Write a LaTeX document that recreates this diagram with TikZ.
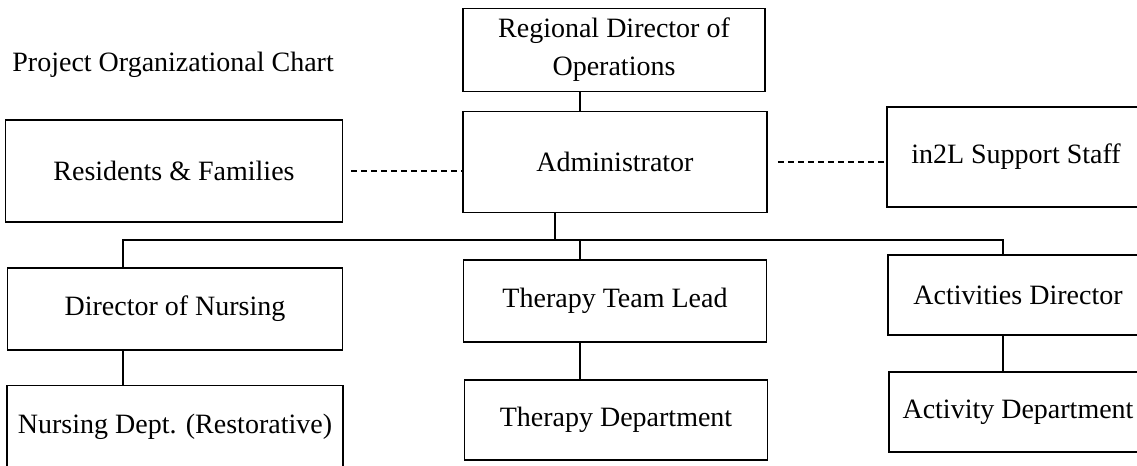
\documentclass[tikz,border=0pt]{standalone}
\usepackage{fontspec}
\setmainfont{Liberation Serif}
\usepackage{tikz}

\begin{document}
\begin{tikzpicture}[
                    x=0.5pt, y=-0.5pt,
                    box/.style = {
                        draw=black, rectangle, line width=0.8pt, inner sep=1pt,
                        font=\fontsize{14}{19}\selectfont, align=center
                    },
                    link/.style = {line width=0.8pt},
                    dotlink/.style = {line width=1pt, dash pattern=on 3pt off 2pt}
                ]
                    \useasboundingbox (0,0) rectangle (1137,466);

                    % Title
                    \node[anchor=base west, inner sep=0pt, font=\fontsize{14}{19}\selectfont] (title) at (12,71) {Project Organizational Chart};

                    % Nodes
                    \node[box, minimum width=151pt, minimum height=41.5pt] (reg) at (614,50) {Regional Director of\\Operations};
                    \node[box, minimum width=152pt, minimum height=50.5pt] (adm) at (615,162) {Administrator};
                    \node[box, minimum width=168.5pt, minimum height=51pt] (res) at (174,171) {Residents \& Families};
                    \node[box, minimum width=129pt, minimum height=50pt] (sup) at (1016,157) {in2L Support Staff};
                    \node[box, minimum width=167.5pt, minimum height=41pt] (don) at (175,309) {Director of Nursing};
                    \node[box, minimum width=151.5pt, minimum height=41pt] (ttl) at (615,301) {Therapy Team Lead};
                    \node[box, minimum width=130pt, minimum height=40pt] (act) at (1018,295) {Activities Director};
                    \node[box, minimum width=168pt, minimum height=41.5pt] (nur) at (175,427) {Nursing Dept. (Restorative)};
                    \node[box, minimum width=151.5pt, minimum height=40pt] (tdp) at (616,420) {Therapy Department};
                    \node[box, minimum width=129pt, minimum height=40pt] (adp) at (1018,412) {Activity Department};

                    % Bus line
                    \coordinate (bus) at (580,240);

                    % Edges
                    \draw[link] ([xshift=-17pt]reg.south) -- ([xshift=-17pt]reg.south |- adm.north);
                    \draw[link] ([xshift=-30pt]adm.south) -- ([xshift=-30pt]adm.south |- bus);
                    \draw[link] ([xshift=-26pt]don.north) |- (bus) -| ([xshift=-7.5pt]act.north);
                    \draw[link] ([xshift=-17.5pt]ttl.north) -- ([xshift=-17.5pt]ttl.north |- bus);
                    \draw[link] ([xshift=-26pt]don.south) -- ([xshift=-26pt]don.south |- nur.north);
                    \draw[link] ([xshift=-17.5pt]ttl.south) -- ([xshift=-17.5pt]ttl.south |- tdp.north);
                    \draw[link] ([xshift=-7.5pt]act.south) -- ([xshift=-7.5pt]act.south |- adp.north);

                    % Dashed links
                    \draw[dotlink] ([xshift=4pt]res.east) -- (res.east -| adm.west);
                    \draw[dotlink] ([xshift=5pt]adm.east) -- (adm.east -| sup.west);
                \end{tikzpicture}
\end{document}
